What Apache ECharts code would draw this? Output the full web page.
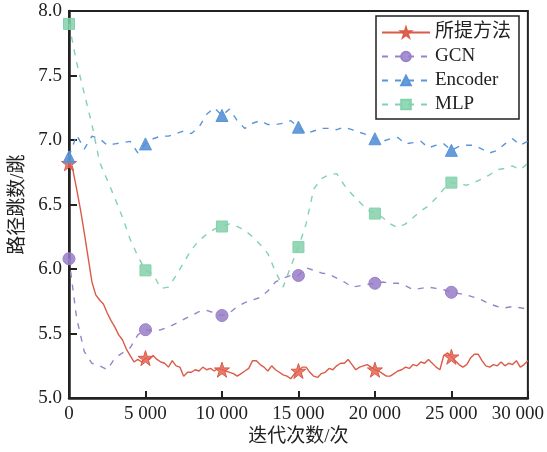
<!DOCTYPE html>
<html>
<head>
<meta charset="utf-8">
<script src="https://cdn.jsdelivr.net/npm/echarts@6/dist/echarts.min.js"></script>
<style>html,body{margin:0;padding:0;background:#fff}#c{width:547px;height:452px}</style>
</head>
<body>
<div id="c"></div>
<script>
// ---- data ----
const seriesNames = ['所提方法', 'GCN', 'Encoder', 'MLP'];
const xTicks = [0, 5000, 10000, 15000, 20000, 25000, 30000];
const xTickLabels = ['0', '5 000', '10 000', '15 000', '20 000', '25 000', '30 000'];
const yTickLabels = ['5.0', '5.5', '6.0', '6.5', '7.0', '7.5', '8.0'];
const markerIters = [0, 5000, 10000, 15000, 20000, 25000];

// 所提方法: one value every 250 iterations, 0..30000
const proposedStep = 250;
const proposed = [
  6.82, 6.77, 6.62, 6.46, 6.28, 6.09, 5.90, 5.80, 5.76, 5.73, 5.66, 5.60, 5.55, 5.49, 5.45, 5.38, 5.33, 5.28, 5.30, 5.28,
  5.31, 5.30, 5.33, 5.30, 5.28, 5.27, 5.24, 5.29, 5.25, 5.24, 5.17, 5.20, 5.20, 5.22, 5.21, 5.24, 5.22, 5.23, 5.21, 5.23,
  5.22, 5.21, 5.20, 5.19, 5.17, 5.19, 5.21, 5.23, 5.29, 5.29, 5.26, 5.24, 5.21, 5.25, 5.22, 5.20, 5.18, 5.17, 5.15, 5.19,
  5.21, 5.24, 5.24, 5.20, 5.17, 5.16, 5.19, 5.20, 5.23, 5.22, 5.25, 5.27, 5.27, 5.30, 5.26, 5.22, 5.24, 5.25, 5.26, 5.24,
  5.22, 5.21, 5.19, 5.17, 5.17, 5.19, 5.21, 5.22, 5.24, 5.23, 5.26, 5.25, 5.28, 5.27, 5.30, 5.27, 5.24, 5.22, 5.33, 5.35,
  5.32, 5.29, 5.26, 5.24, 5.26, 5.31, 5.34, 5.34, 5.29, 5.25, 5.24, 5.26, 5.25, 5.28, 5.25, 5.27, 5.26, 5.29, 5.24, 5.26,
  5.29
];

// GCN / Encoder / MLP: one value every 500 iterations, 0..30000
const baseStep = 500;
const gcn = [
  6.08, 5.62, 5.36, 5.27, 5.25, 5.22, 5.31, 5.35, 5.39, 5.49,
  5.53, 5.52, 5.53, 5.55, 5.58, 5.61, 5.64, 5.67, 5.68, 5.66,
  5.64, 5.66, 5.71, 5.74, 5.76, 5.78, 5.83, 5.90, 5.93, 5.95,
  5.95, 6.01, 5.99, 5.97, 5.96, 5.93, 5.90, 5.86, 5.87, 5.88,
  5.89, 5.90, 5.89, 5.89, 5.87, 5.84, 5.85, 5.86, 5.85, 5.84,
  5.82, 5.81, 5.80, 5.78, 5.76, 5.73, 5.71, 5.70, 5.71, 5.70,
  5.69
];
const encoder = [
  6.87, 7.04, 6.93, 7.03, 7.01, 6.96, 6.97, 6.98, 6.99, 6.90,
  6.97, 7.01, 7.03, 7.03, 7.05, 7.07, 7.05, 7.10, 7.20, 7.25,
  7.19, 7.24, 7.15, 7.09, 7.13, 7.15, 7.12, 7.12, 7.13, 7.15,
  7.10, 7.05, 7.07, 7.09, 7.09, 7.08, 7.10, 7.08, 7.06, 7.04,
  7.01, 6.99, 7.01, 7.02, 6.97, 6.98, 6.99, 6.94, 6.96, 6.97,
  6.92, 6.95, 6.96, 6.96, 6.93, 6.90, 6.92, 6.97, 7.01, 6.96,
  6.99
];
const mlp = [
  7.90, 7.60, 7.36, 7.12, 6.83, 6.69, 6.55, 6.40, 6.23, 6.10,
  5.99, 5.96, 5.85, 5.86, 5.95, 6.05, 6.15, 6.22, 6.27, 6.31,
  6.33, 6.35, 6.33, 6.30, 6.25, 6.19, 6.12, 5.98, 5.86, 6.02,
  6.17, 6.35, 6.62, 6.70, 6.73, 6.74, 6.65, 6.58, 6.52, 6.46,
  6.43, 6.40, 6.35, 6.32, 6.35, 6.40, 6.45, 6.49, 6.55, 6.62,
  6.67, 6.66, 6.65, 6.67, 6.70, 6.73, 6.77, 6.78, 6.80, 6.77,
  6.82
];

// ---- chart ----
function pairs(arr, step) { return arr.map((v, i) => [i * step, v]); }
const serif = '"Liberation Serif", "Times New Roman", serif';
const cjk = '"Liberation Serif", "Noto Sans CJK SC", serif';
const star = 'path://M50,0 L61.2,34.5 L97.6,34.5 L68.2,55.9 L79.4,90.5 L50,69.1 L20.6,90.5 L31.8,55.9 L2.4,34.5 L38.8,34.5 Z';

function markerSize(s) {
  return function (val) { return markerIters.indexOf(val[0]) >= 0 ? s : 0; };
}

const styles = [
  { color: '#db5b49', fill: 'rgba(229,100,84,0.85)', symbol: star, size: 15, dash: 'solid', width: 1.4 },
  { color: '#9a82c8', fill: 'rgba(150,124,199,0.85)', symbol: 'circle', size: 12, dash: [6, 7], width: 1.4 },
  { color: '#5a95d8', fill: 'rgba(86,144,214,0.9)', symbol: 'triangle', size: 12, dash: [6, 7], width: 1.4 },
  { color: '#82d2ad', fill: 'rgba(132,208,172,0.85)', symbol: 'rect', size: 11, dash: [6, 7], width: 1.4 }
];
const dataSets = [pairs(proposed, proposedStep), pairs(gcn, baseStep), pairs(encoder, baseStep), pairs(mlp, baseStep)];

const series = seriesNames.map((name, k) => ({
  name: name,
  type: 'line',
  data: dataSets[k],
  symbol: styles[k].symbol,
  symbolSize: markerSize(styles[k].size),
  showSymbol: true,
  showAllSymbol: true,
  lineStyle: { color: styles[k].color, width: styles[k].width, type: styles[k].dash },
  itemStyle: { color: styles[k].fill, borderColor: styles[k].color, borderWidth: 1 },
  emphasis: { disabled: true },
  z: 2 + k
}));

const chart = echarts.init(document.getElementById('c'), null, { renderer: 'canvas' });
chart.setOption({
  animation: false,
  backgroundColor: '#fff',
  grid: { left: 69, right: 18, top: 11, bottom: 53, show: true, borderColor: '#222', borderWidth: 2, backgroundColor: 'transparent' },
  legend: {
    orient: 'vertical',
    left: 376, top: 16,
    padding: [7, 8, 5, 5],
    itemWidth: 48, itemHeight: 12, itemGap: 5,
    borderColor: '#222', borderWidth: 1.5, backgroundColor: '#fff',
    textStyle: { fontFamily: cjk, fontSize: 19, color: '#222', lineHeight: 19 },
    data: seriesNames
  },
  xAxis: {
    type: 'value', min: xTicks[0], max: xTicks[xTicks.length - 1], interval: xTicks[1] - xTicks[0],
    name: '迭代次数/次', nameLocation: 'middle', nameGap: 28,
    nameTextStyle: { fontFamily: cjk, fontSize: 19, color: '#222' },
    axisLine: { show: true, lineStyle: { color: '#222', width: 2.5 } },
    axisTick: { show: true, inside: true, length: 7, lineStyle: { color: '#222', width: 2 } },
    splitLine: { show: false },
    axisLabel: {
      fontFamily: serif, fontSize: 19, color: '#222', margin: 6,
      formatter: function (v) {
        const lab = xTickLabels[xTicks.indexOf(v)];
        return v === xTicks[xTicks.length - 1] ? '{r|' + lab + '}' : lab;
      },
      rich: { r: { fontFamily: serif, fontSize: 19, color: '#222', padding: [0, 20, 0, 0] } }
    }
  },
  yAxis: {
    type: 'value', min: 5, max: 8, interval: 0.5,
    name: '路径跳数/跳', nameLocation: 'middle', nameGap: 39, nameRotate: 90,
    nameTextStyle: { fontFamily: cjk, fontSize: 19, color: '#222' },
    axisLine: { show: true, lineStyle: { color: '#222', width: 2.5 } },
    axisTick: { show: true, inside: true, length: 8, lineStyle: { color: '#222', width: 2 } },
    splitLine: { show: false },
    axisLabel: {
      fontFamily: serif, fontSize: 19, color: '#222', margin: 7,
      formatter: function (v) { return yTickLabels[Math.round((v - 5) / 0.5)]; }
    }
  },
  series: series
});
</script>
</body>
</html>
